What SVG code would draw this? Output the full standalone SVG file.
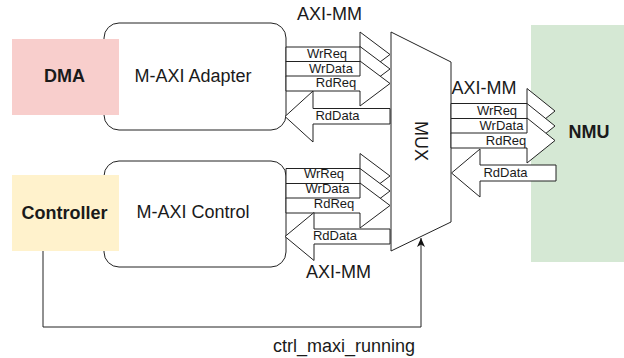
<svg xmlns="http://www.w3.org/2000/svg" width="624" height="358" viewBox="0 0 624 358">
<style>
text{font-family:"Liberation Sans",Arial,Helvetica,sans-serif;fill:#1a1a1a}
.big{font-size:18px;text-anchor:middle}
.bold{font-size:18px;font-weight:bold;text-anchor:middle}
.sm{font-size:13px;text-anchor:middle}
.box{fill:#fff;stroke:#222;stroke-width:1}
.fa{fill:#fff;stroke:#222;stroke-width:1;stroke-linejoin:miter}
.edge{fill:none;stroke:#222;stroke-width:1}
</style>
<defs>
<marker id="ah" markerWidth="10" markerHeight="10" refX="9" refY="5" orient="auto" markerUnits="userSpaceOnUse">
<path d="M0,1 L9,5 L0,9 L2.5,5 Z" fill="#111"/>
</marker>
</defs>

<g id="adapter">
<rect class="box" x="104" y="23" width="182" height="107" rx="15" ry="15"/>
<text class="big" x="193" y="82">M-AXI Adapter</text>
</g>
<g id="dma">
<rect x="12" y="39" width="107" height="76" fill="#f8cecc"/>
<text class="bold" x="64.5" y="82">DMA</text>
</g>
<g id="control">
<rect class="box" x="104" y="161" width="182" height="106" rx="15" ry="15"/>
<text class="big" x="193" y="218">M-AXI Control</text>
</g>
<g id="controller">
<rect x="12" y="175" width="107" height="76" fill="#fff2cc"/>
<text class="bold" x="64.5" y="219">Controller</text>
</g>
<g id="nmu">
<rect x="531" y="25" width="93" height="237" fill="#d5e8d4"/>
<text class="bold" x="589" y="138">NMU</text>
</g>
<g id="mux">
<polygon points="391,32 451,62 451,222 391,251" fill="#fff" stroke="#222" stroke-width="1"/>
<text class="big" transform="translate(421,141) rotate(90)" y="6">MUX</text>
</g>

<g id="connectors">
<!-- top bundle: adapter -> mux -->
<polygon class="fa" points="286,47 360,47 360,32 390,54.5 360,77 360,62 286,62"/>
<polygon class="fa" points="286,61.5 360,61.5 360,46.5 390,69 360,91.5 360,76.5 286,76.5"/>
<polygon class="fa" points="286,76 360,76 360,61 390,83.5 360,106 360,91 286,91"/>
<polygon class="fa" points="390,108.5 313,108.5 313,91 285,116.5 313,142 313,124 390,124"/>
<!-- control bundle -->
<polygon class="fa" points="286,168.5 360,168.5 360,153.5 390,176 360,198.5 360,183.5 286,183.5"/>
<polygon class="fa" points="286,183.5 360,183.5 360,168.5 390,191 360,213.5 360,198.5 286,198.5"/>
<polygon class="fa" points="286,198 360,198 360,183 390,205.5 360,228 360,213 286,213"/>
<polygon class="fa" points="390,229 314,229 314,212.5 285,236.5 314,260.5 314,244 390,244"/>
<!-- right bundle: mux -> nmu -->
<polygon class="fa" points="451,103.5 527,103.5 527,88.5 555,111 527,133.5 527,118.5 451,118.5"/>
<polygon class="fa" points="451,118.5 527,118.5 527,103.5 555,126 527,148.5 527,133.5 451,133.5"/>
<polygon class="fa" points="451,133 527,133 527,118 555,140.5 527,163 527,148 451,148"/>
<polygon class="fa" points="556,165 480,165 480,149 451.5,173 480,197 480,181 556,181"/>
<!-- feedback edge -->
<polyline class="edge" points="43,251 43,327 421,327 421,238" marker-end="url(#ah)"/>
</g>

<g id="labels">
<text class="sm" x="327" y="58">WrReq</text>
<text class="sm" x="331" y="72.5">WrData</text>
<text class="sm" x="336" y="87">RdReq</text>
<text class="sm" x="337.5" y="120">RdData</text>
<text class="sm" x="324" y="178">WrReq</text>
<text class="sm" x="327.5" y="193">WrData</text>
<text class="sm" x="334" y="208">RdReq</text>
<text class="sm" x="335" y="240">RdData</text>
<text class="sm" x="497" y="115">WrReq</text>
<text class="sm" x="501.5" y="130">WrData</text>
<text class="sm" x="506" y="145">RdReq</text>
<text class="sm" x="505.5" y="177">RdData</text>
<text class="big" x="329.5" y="20">AXI-MM</text>
<text class="big" x="484" y="93.5">AXI-MM</text>
<text class="big" x="338.5" y="278">AXI-MM</text>
<text class="big" x="344" y="352">ctrl_maxi_running</text>
</g>
</svg>
